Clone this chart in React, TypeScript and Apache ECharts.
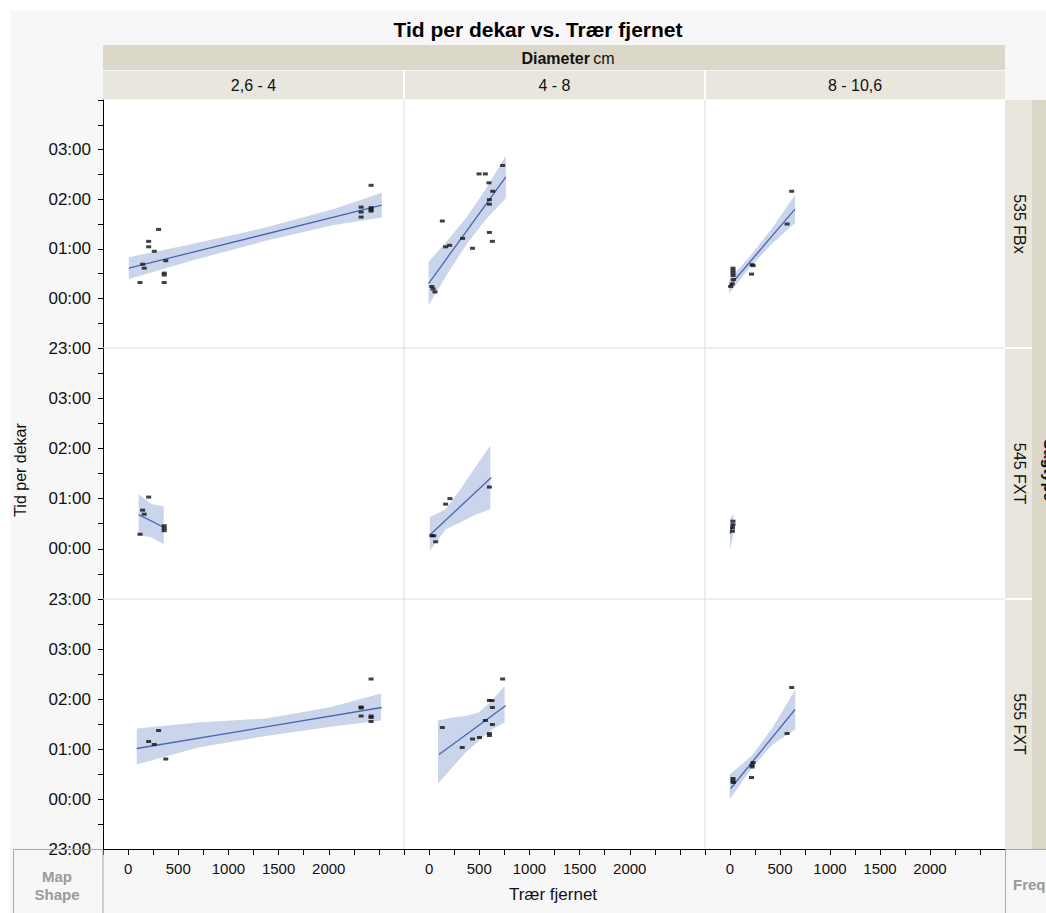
import React, { useEffect, useRef } from 'react';
import * as echarts from 'echarts';

// ---- categories / labels ----
const columnLabels = ['2,6 - 4', '4 - 8', '8 - 10,6'];
const rowLabels = ['535 FBx', '545 FXT', '555 FXT'];
const xTickLabels = ['0', '500', '1000', '1500', '2000'];
const yTickLabels = ['23:00', '00:00', '01:00', '02:00', '03:00'];

// ---- data: x = Trær fjernet, y = Tid per dekar (hours) ----
// row 1 (535 FBx)
const r1c1X = [119, 145, 161, 205, 205, 261, 304, 376, 360, 360, 360, 2323, 2323, 2323, 2422, 2422, 2422, 2422];
const r1c1Y = [0.32, 0.69, 0.61, 1.15, 1.04, 0.95, 1.39, 0.76, 0.51, 0.47, 0.32, 1.84, 1.74, 1.64, 2.28, 1.83, 1.79, 1.76];
const r1c2X = [27, 40, 59, 132, 165, 205, 334, 433, 498, 561, 597, 634, 601, 601, 601, 631, 733];
const r1c2Y = [0.24, 0.19, 0.13, 1.56, 1.04, 1.07, 1.21, 1.01, 2.51, 2.51, 2.33, 2.16, 1.99, 1.9, 1.33, 1.15, 2.68];
const r1c3X = [617, 571, 221, 231, 215, 30, 30, 30, 30, 33, 23, 7];
const r1c3Y = [2.16, 1.5, 0.68, 0.66, 0.49, 0.61, 0.56, 0.51, 0.46, 0.38, 0.29, 0.24];
// row 2 (545 FXT)
const r2c1X = [205, 145, 161, 119, 360, 360, 360];
const r2c1Y = [1.03, 0.77, 0.69, 0.29, 0.46, 0.41, 0.36];
const r2c2X = [27, 47, 66, 165, 208, 601];
const r2c2Y = [0.26, 0.26, 0.14, 0.89, 1.0, 1.23];
const r2c3X = [30, 30, 25, 25];
const r2c3Y = [0.55, 0.48, 0.42, 0.35];
// row 3 (555 FXT)
const r3c1X = [205, 261, 304, 376, 2323, 2323, 2323, 2422, 2422, 2422, 2422];
const r3c1Y = [1.15, 1.09, 1.37, 0.8, 1.84, 1.82, 1.66, 2.4, 1.66, 1.63, 1.55];
const r3c2X = [132, 330, 433, 502, 561, 601, 627, 631, 631, 601, 601, 733];
const r3c2Y = [1.43, 1.03, 1.2, 1.23, 1.57, 1.97, 1.97, 1.83, 1.49, 1.31, 1.27, 2.4];
const r3c3X = [617, 571, 231, 221, 221, 215, 30, 30, 33];
const r3c3Y = [2.23, 1.31, 0.73, 0.68, 0.64, 0.43, 0.41, 0.36, 0.33];

// ---- fitted lines (endpoints) and confidence bands ----
const r1c1LineX = [7, 2528];
const r1c1LineY = [0.61, 1.88];
const r1c1BandX = [7, 650, 1350, 2050, 2528];
const r1c1BandLo = [0.39, 0.77, 1.15, 1.48, 1.63];
const r1c1BandHi = [0.83, 1.1, 1.42, 1.8, 2.13];

const r1c2LineX = [-5, 765];
const r1c2LineY = [0.3, 2.45];
const r1c2BandX = [-5, 190, 380, 570, 765];
const r1c2BandLo = [-0.14, 0.52, 1.11, 1.6, 2.02];
const r1c2BandHi = [0.74, 1.18, 1.65, 2.22, 2.88];

const r1c3LineX = [-10, 650];
const r1c3LineY = [0.24, 1.8];
const r1c3BandX = [-10, 200, 420, 650];
const r1c3BandLo = [0.1, 0.63, 1.1, 1.52];
const r1c3BandHi = [0.38, 0.85, 1.41, 2.09];

const r2c1LineX = [105, 355];
const r2c1LineY = [0.68, 0.43];
const r2c1BandX = [105, 230, 355];
const r2c1BandLo = [0.27, 0.23, 0.09];
const r2c1BandHi = [1.09, 0.89, 0.85];

const r2c2LineX = [10, 620];
const r2c2LineY = [0.28, 1.42];
const r2c2BandX = [7, 165, 314, 462, 611];
const r2c2BandLo = [-0.04, 0.39, 0.53, 0.68, 0.79];
const r2c2BandHi = [0.63, 0.79, 1.19, 1.63, 2.06];

const r2c3LineX = [0, 35];
const r2c3LineY = [0.3, 0.5];
const r2c3BandX = [0, 35];
const r2c3BandLo = [-0.02, 0.3];
const r2c3BandHi = [0.6, 0.7];

const r3c1LineX = [86, 2528];
const r3c1LineY = [1.01, 1.83];
const r3c1BandX = [86, 700, 1373, 2000, 2522];
const r3c1BandLo = [0.69, 1.03, 1.26, 1.44, 1.57];
const r3c1BandHi = [1.41, 1.53, 1.61, 1.83, 2.11];

const r3c2LineX = [99, 765];
const r3c2LineY = [0.89, 1.87];
const r3c2BandX = [89, 231, 363, 495, 627, 752];
const r3c2BandLo = [0.31, 0.63, 0.93, 1.16, 1.39, 1.53];
const r3c2BandHi = [1.57, 1.63, 1.66, 1.73, 1.97, 2.26];

const r3c3LineX = [7, 650];
const r3c3LineY = [0.21, 1.79];
const r3c3BandX = [-3, 220, 430, 653];
const r3c3BandLo = [-0.01, 0.63, 1.1, 1.39];
const r3c3BandHi = [0.49, 0.87, 1.44, 2.19];

const panels = [
  { x: r1c1X, y: r1c1Y, lx: r1c1LineX, ly: r1c1LineY, bx: r1c1BandX, lo: r1c1BandLo, hi: r1c1BandHi },
  { x: r1c2X, y: r1c2Y, lx: r1c2LineX, ly: r1c2LineY, bx: r1c2BandX, lo: r1c2BandLo, hi: r1c2BandHi },
  { x: r1c3X, y: r1c3Y, lx: r1c3LineX, ly: r1c3LineY, bx: r1c3BandX, lo: r1c3BandLo, hi: r1c3BandHi },
  { x: r2c1X, y: r2c1Y, lx: r2c1LineX, ly: r2c1LineY, bx: r2c1BandX, lo: r2c1BandLo, hi: r2c1BandHi },
  { x: r2c2X, y: r2c2Y, lx: r2c2LineX, ly: r2c2LineY, bx: r2c2BandX, lo: r2c2BandLo, hi: r2c2BandHi },
  { x: r2c3X, y: r2c3Y, lx: r2c3LineX, ly: r2c3LineY, bx: r2c3BandX, lo: r2c3BandLo, hi: r2c3BandHi },
  { x: r3c1X, y: r3c1Y, lx: r3c1LineX, ly: r3c1LineY, bx: r3c1BandX, lo: r3c1BandLo, hi: r3c1BandHi },
  { x: r3c2X, y: r3c2Y, lx: r3c2LineX, ly: r3c2LineY, bx: r3c2BandX, lo: r3c2BandLo, hi: r3c2BandHi },
  { x: r3c3X, y: r3c3Y, lx: r3c3LineX, ly: r3c3LineY, bx: r3c3BandX, lo: r3c3BandLo, hi: r3c3BandHi },
];

const FONT = 'Liberation Sans, Arial, sans-serif';
const colLeft = [103, 404, 705];
const colWidth = [301, 301, 300];
const rowTop = [100, 348, 599];
const rowHeight = [248, 251, 250];

function buildOption() {
  const grids: any[] = [];
  const xAxes: any[] = [];
  const yAxes: any[] = [];
  const series: any[] = [];

  for (let r = 0; r < 3; r++) {
    for (let c = 0; c < 3; c++) {
      const g = r * 3 + c;
      grids.push({ left: colLeft[c], top: rowTop[r], width: colWidth[c], height: rowHeight[r], containLabel: false });
      const bottom = r === 2;
      xAxes.push({
        type: 'value', gridIndex: g, min: -250, max: 2750, interval: 250,
        axisLine: { show: bottom, onZero: false, lineStyle: { color: '#000', width: 1 } },
        axisTick: { show: bottom, inside: false, length: 6, lineStyle: { color: '#000' } },
        axisLabel: {
          show: bottom, margin: 12, color: '#111', fontSize: 15, fontFamily: FONT,
          formatter: (v: number) => (xTickLabels.includes(String(v)) ? String(v) : ''),
        },
        splitLine: { show: false },
      });
      const left = c === 0;
      yAxes.push({
        type: 'value', gridIndex: g, min: -1, max: 4, interval: 1,
        axisLine: { show: left, onZero: false, lineStyle: { color: '#000', width: 1 } },
        axisTick: { show: left, inside: false, length: 5, lineStyle: { color: '#000' } },
        minorTick: { show: left, splitNumber: 2, length: 5, lineStyle: { color: '#000' } },
        axisLabel: {
          show: left, margin: 12, color: '#111', fontSize: 17, fontFamily: FONT, showMaxLabel: false,
          formatter: (v: number) => yTickLabels[Math.round(v) + 1] ?? '',
        },
        splitLine: { show: false },
      });

      const p = panels[g];
      const bx = p.bx, lo = p.lo, hi = p.hi;
      series.push({
        type: 'custom', xAxisIndex: g, yAxisIndex: g, z: 1, silent: true,
        data: bx.map((x, i) => [x, lo[i], hi[i]]),
        renderItem: (params: any, api: any) => {
          if (params.dataIndex !== 0) return { type: 'group', children: [] };
          const top = bx.map((x, i) => api.coord([x, hi[i]]));
          const bot = bx.map((x, i) => api.coord([x, lo[i]])).reverse();
          return { type: 'polygon', shape: { points: [...top, ...bot] }, style: { fill: '#cad4ea' } };
        },
      });
      series.push({
        type: 'line', xAxisIndex: g, yAxisIndex: g, z: 2, silent: true,
        showSymbol: false, symbol: 'none',
        data: p.lx.map((x, i) => [x, p.ly[i]]),
        lineStyle: { color: '#4a66b2', width: 1.3 },
      });
      series.push({
        type: 'scatter', xAxisIndex: g, yAxisIndex: g, z: 3, silent: true,
        symbol: 'rect', symbolSize: [5, 3],
        itemStyle: { color: '#111' },
        data: p.x.map((x, i) => [x, p.y[i]]),
      });
    }
  }

  const graphic: any[] = [
    { type: 'rect', z: -10, shape: { x: 10, y: 10, width: 1036, height: 903 }, style: { fill: '#f7f7f7' } },
    { type: 'rect', z: -9, shape: { x: 103, y: 100, width: 902, height: 749 }, style: { fill: '#ffffff' } },
    // title
    { type: 'text', z: 10, x: 538, y: 29, style: { text: 'Tid per dekar vs. Trær fjernet', fontSize: 21, fontWeight: 'bold', fontFamily: FONT, fill: '#000', align: 'center', verticalAlign: 'middle' } },
    // header bands
    { type: 'rect', z: -8, shape: { x: 103, y: 45, width: 902, height: 25 }, style: { fill: '#dbd8ca' } },
    { type: 'rect', z: -8, shape: { x: 103, y: 71, width: 902, height: 28 }, style: { fill: '#e8e6dd' } },
    { type: 'line', z: -7, shape: { x1: 404, y1: 71, x2: 404, y2: 99 }, style: { stroke: '#ffffff', lineWidth: 2 } },
    { type: 'line', z: -7, shape: { x1: 705, y1: 71, x2: 705, y2: 99 }, style: { stroke: '#ffffff', lineWidth: 2 } },
    { type: 'text', z: 10, x: 568, y: 58, style: { text: '{a|Diameter} {b|cm}', rich: { a: { fontSize: 16, fontWeight: 'bold', fontFamily: FONT, fill: '#111' }, b: { fontSize: 16, fontFamily: FONT, fill: '#111' } }, align: 'center', verticalAlign: 'middle' } },
    // right strip
    { type: 'rect', z: -8, shape: { x: 1005, y: 100, width: 27, height: 749 }, style: { fill: '#e8e6dd' } },
    { type: 'rect', z: -8, shape: { x: 1032, y: 100, width: 14, height: 749 }, style: { fill: '#dbd8ca' } },
    { type: 'line', z: -7, shape: { x1: 1005, y1: 348, x2: 1032, y2: 348 }, style: { stroke: '#ffffff', lineWidth: 2 } },
    { type: 'line', z: -7, shape: { x1: 1005, y1: 599, x2: 1032, y2: 599 }, style: { stroke: '#ffffff', lineWidth: 2 } },
    { type: 'text', z: 10, x: 1049, y: 470, rotation: -Math.PI / 2, style: { text: 'Sagtype', fontSize: 16, fontWeight: 'bold', fontFamily: FONT, fill: '#111', align: 'center', verticalAlign: 'middle' } },
    // panel separators
    { type: 'line', z: 1, shape: { x1: 404, y1: 100, x2: 404, y2: 849 }, style: { stroke: '#dddddd', lineWidth: 1 } },
    { type: 'line', z: 1, shape: { x1: 705, y1: 100, x2: 705, y2: 849 }, style: { stroke: '#dddddd', lineWidth: 1 } },
    { type: 'line', z: 1, shape: { x1: 103, y1: 348, x2: 1005, y2: 348 }, style: { stroke: '#dddddd', lineWidth: 1 } },
    { type: 'line', z: 1, shape: { x1: 103, y1: 599, x2: 1005, y2: 599 }, style: { stroke: '#dddddd', lineWidth: 1 } },
    // axis titles
    { type: 'text', z: 10, x: 20, y: 470, rotation: Math.PI / 2, style: { text: 'Tid per dekar', fontSize: 16, fontFamily: FONT, fill: '#111', align: 'center', verticalAlign: 'middle' } },
    { type: 'text', z: 10, x: 553, y: 894, style: { text: 'Trær fjernet', fontSize: 17, fontFamily: FONT, fill: '#111', align: 'center', verticalAlign: 'middle' } },
    // bottom boxes
    { type: 'rect', z: 5, shape: { x: 13.5, y: 849.5, width: 89.5, height: 70 }, style: { fill: 'none', stroke: '#a8a8a8', lineWidth: 1 } },
    { type: 'rect', z: 5, shape: { x: 1005.5, y: 849.5, width: 50, height: 70 }, style: { fill: 'none', stroke: '#a8a8a8', lineWidth: 1 } },
    { type: 'text', z: 10, x: 57, y: 876, style: { text: 'Map', fontSize: 15, fontWeight: 'bold', fontFamily: FONT, fill: '#9a9a9a', align: 'center', verticalAlign: 'middle' } },
    { type: 'text', z: 10, x: 57, y: 894, style: { text: 'Shape', fontSize: 15, fontWeight: 'bold', fontFamily: FONT, fill: '#9a9a9a', align: 'center', verticalAlign: 'middle' } },
    { type: 'text', z: 10, x: 1013, y: 884, style: { text: 'Freq', fontSize: 15, fontWeight: 'bold', fontFamily: FONT, fill: '#9a9a9a', align: 'left', verticalAlign: 'middle' } },
  ];

  columnLabels.forEach((t, c) => {
    graphic.push({ type: 'text', z: 10, x: colLeft[c] + colWidth[c] / 2, y: 85, style: { text: t, fontSize: 16, fontFamily: FONT, fill: '#111', align: 'center', verticalAlign: 'middle' } });
  });
  rowLabels.forEach((t, r) => {
    graphic.push({ type: 'text', z: 10, x: 1019, y: rowTop[r] + rowHeight[r] / 2, rotation: -Math.PI / 2, style: { text: t, fontSize: 16, fontFamily: FONT, fill: '#111', align: 'center', verticalAlign: 'middle' } });
  });

  return {
    animation: false,
    backgroundColor: '#ffffff',
    grid: grids,
    xAxis: xAxes,
    yAxis: yAxes,
    series,
    graphic,
  };
}

export default function App() {
  const ref = useRef<HTMLDivElement>(null);
  useEffect(() => {
    if (!ref.current) return;
    const chart = echarts.init(ref.current, undefined, { renderer: 'svg' });
    chart.setOption(buildOption());
    return () => chart.dispose();
  }, []);
  return <div ref={ref} style={{ position: 'absolute', left: 0, top: 0, width: 1046, height: 913 }} />;
}
